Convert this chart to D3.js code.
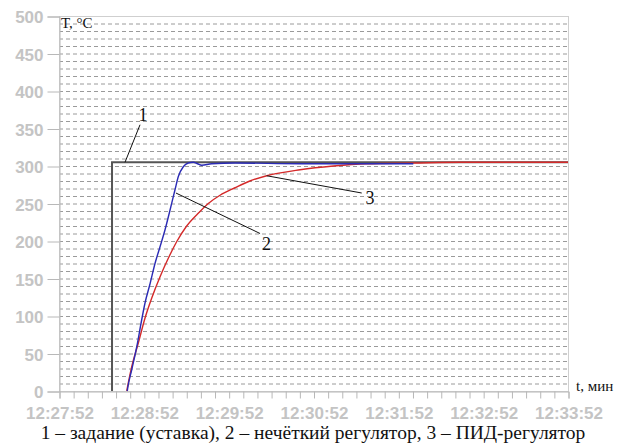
<!DOCTYPE html>
<html>
<head>
<meta charset="utf-8">
<script src="https://cdn.jsdelivr.net/npm/d3@7"></script>
</head>
<body style="margin:0">
<svg id="plot" width="626" height="446"></svg>
<script>
// время в секундах от 12:27:52, температура в °C
const xTickLabels = ['12:27:52', '12:28:52', '12:29:52', '12:30:52', '12:31:52', '12:32:52', '12:33:52'];
const yTicks      = [0, 50, 100, 150, 200, 250, 300, 350, 400, 450, 500];

// 1 - задание (уставка)
const setpoint = [[37.5, 0], [37.5, 305], [360, 305]];

// 2 - нечёткий регулятор
const fuzzy = [
    [48.3, 0], [48.6, 4], [51.4, 28], [55.0, 59], [58.0, 90], [60.8, 117], [64.4, 143],
    [67.9, 170], [71.4, 192], [75.0, 215], [78.5, 241], [82.0, 268], [84.4, 286],
    [87.9, 299], [91.4, 304], [95.0, 305], [98.0, 303], [100.9, 301], [108.0, 303],
    [124.5, 304], [170.5, 303], [250.6, 303]
];

// 3 - ПИД-регулятор
const pid = [
    [47.9, 0], [51.4, 32], [56.1, 64], [60.8, 97], [65.6, 124], [71.4, 152], [77.3, 177],
    [83.2, 199], [90.3, 220], [99.0, 238], [105.6, 250], [113.9, 261], [124.5, 271],
    [135.0, 280], [146.9, 287], [170.5, 295], [194.0, 300], [217.6, 303], [250.6, 304],
    [283.6, 305], [360, 305]
];

// подписи кривых: текст, позиция, выноска
const callouts = [
    {text: '1', at: [59.4, 360], from: [57.3, 355], to: [46.7, 305]},
    {text: '2', at: [146.8, 188], from: [82.7, 264], to: [142.2, 210]},
    {text: '3', at: [220, 249], from: [146.9, 287], to: [214.1, 264]}
];

const caption = '1 – задание (уставка), 2 – нечёткий регулятор, 3 – ПИД-регулятор';

const SERIF = 'Liberation Serif';
const SANS  = 'Liberation Sans';

const margin = {top: 16, right: 58, bottom: 55, left: 59};
const svg    = d3.select('#plot');
const W      = +svg.attr('width'), H = +svg.attr('height');

const x = d3.scaleLinear().domain([0, 360]).range([margin.left, W - margin.right]);
const y = d3.scaleLinear().domain([0, 500]).range([H - margin.bottom, margin.top]);

// сетка через 10 °C
svg.append('g')
    .selectAll('line')
    .data(d3.range(10, 500, 10))
    .enter()
    .append('line')
    .attr('x1', x(0)).attr('x2', x(360))
    .attr('y1', d => y(d) + .5).attr('y2', d => y(d) + .5)
    .attr('stroke', '#9a9a9a')
    .attr('stroke-dasharray', '4,3');

// рамка
svg.append('rect')
    .attr('x', x(0) + .5).attr('y', y(500) + .5)
    .attr('width', x(360) - x(0)).attr('height', y(0) - y(500))
    .attr('fill', 'none').attr('stroke', '#cfcfcf');

function styleAxis(g, dy) {
    g.attr('font-family', null).attr('font-size', null);
    g.select('.domain').attr('stroke', '#b8b8b8');
    g.selectAll('.tick line').attr('stroke', '#b8b8b8');
    g.selectAll('.tick text')
        .style('font-family', SANS, 'important')
        .style('font-weight', 'bold', 'important')
        .style('font-size', '17px')
        .attr('fill', '#c4c4c4').attr('dy', dy);
}

// ось Y
const gy = svg.append('g')
    .attr('transform', `translate(${x(0) + .5}, .5)`)
    .call(d3.axisLeft(y).tickValues(yTicks).tickSize(12).tickPadding(4));
styleAxis(gy, '.36em');

// ось X
const gx = svg.append('g')
    .attr('transform', `translate(.5, ${y(0) + .5})`)
    .call(d3.axisBottom(x).tickValues(d3.range(0, 361, 10)).tickSize(7)
        .tickFormat(d => d % 60 === 0 ? xTickLabels[d / 60] : ''));
styleAxis(gx, '1.05em');

svg.append('path').datum(setpoint).attr('d', d3.line().x(d => x(d[0])).y(d => y(d[1])))
    .attr('fill', 'none').attr('stroke', '#555').attr('stroke-width', 2);

const curve = d3.line().x(d => x(d[0])).y(d => y(d[1])).curve(d3.curveMonotoneX);
svg.append('path').datum(pid).attr('d', curve)
    .attr('fill', 'none').attr('stroke', '#d42a2a').attr('stroke-width', 1.4);
svg.append('path').datum(fuzzy).attr('d', curve)
    .attr('fill', 'none').attr('stroke', '#2b2bb5').attr('stroke-width', 1.4);

const notes = svg.append('g');

const c = notes.selectAll('g').data(callouts).enter().append('g');
c.append('line')
    .attr('x1', d => x(d.from[0])).attr('y1', d => y(d.from[1]))
    .attr('x2', d => x(d.to[0])).attr('y2', d => y(d.to[1]))
    .attr('stroke', '#111').attr('stroke-width', 1);
c.append('text')
    .attr('x', d => x(d.at[0])).attr('y', d => y(d.at[1]))
    .attr('text-anchor', 'middle').attr('font-size', 18)
    .text(d => d.text);

notes.append('text')
    .attr('x', x(0) + 2).attr('y', y(500) + 12).attr('font-size', 15)
    .text('T, °C');

notes.append('text')
    .attr('x', x(360) + 8).attr('y', y(0)).attr('font-size', 15)
    .text('t, мин');

notes.append('text')
    .attr('x', W / 2).attr('y', 439).attr('text-anchor', 'middle').attr('font-size', 19.5)
    .text(caption);

notes.selectAll('text')
    .style('font-family', SERIF, 'important')
    .attr('fill', '#111');
</script>
</body>
</html>
